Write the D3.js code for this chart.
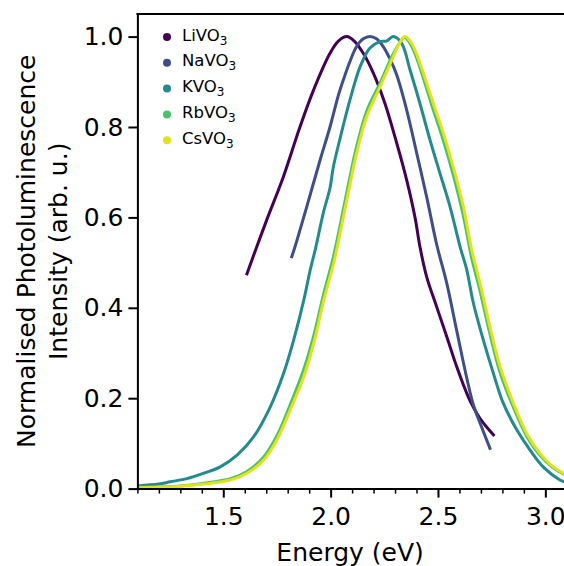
<!DOCTYPE html>
<html>
<head>
<meta charset="utf-8">
<script src="https://cdn.jsdelivr.net/npm/d3@7"></script>
<style>
  body { margin: 0; background: #fff; }
  text { font-family: "DejaVu Sans", sans-serif; fill: #000; }
</style>
</head>
<body>
<svg id="chart" width="564" height="566"></svg>
<script>
// series names and colours (viridis)
var names = ["LiVO", "NaVO", "KVO", "RbVO", "CsVO"];
var colors = ["#440154", "#3d4e8a", "#238b8d", "#4ac16d", "#dfe318"];

// [energy (eV), normalised intensity]
var liVO3 = [[1.61,0.475],[1.656,0.535],[1.702,0.594],[1.78,0.69],[1.857,0.80],[1.919,0.88],
  [1.997,0.963],[2.036,0.99],[2.075,1.0],[2.11,0.99],[2.152,0.963],[2.199,0.919],[2.253,0.852],
  [2.308,0.764],[2.354,0.683],[2.393,0.6],[2.416,0.535],[2.447,0.469],[2.494,0.402],[2.541,0.336],
  [2.587,0.27],[2.641,0.203],[2.665,0.18],[2.696,0.155],[2.758,0.119]];

var naVO3 = [[1.819,0.513],[1.834,0.535],[1.889,0.624],[1.951,0.727],[1.997,0.80],[2.036,0.87],
  [2.059,0.904],[2.09,0.945],[2.121,0.978],[2.152,0.995],[2.183,1.0],[2.214,0.995],[2.245,0.978],
  [2.277,0.95],[2.308,0.915],[2.354,0.838],[2.401,0.742],[2.447,0.646],[2.494,0.54],[2.541,0.454],
  [2.587,0.35],[2.634,0.245],[2.665,0.185],[2.70,0.14],[2.742,0.089]];

var kVO3 = [[1.1,0.006],[1.2,0.01],[1.253,0.015],[1.33,0.022],[1.409,0.034],[1.486,0.048],
  [1.564,0.074],[1.642,0.115],[1.719,0.181],[1.781,0.255],[1.828,0.329],[1.875,0.417],[1.905,0.484],
  [1.929,0.53],[1.966,0.61],[1.997,0.665],[2.012,0.71],[2.044,0.775],[2.09,0.86],[2.137,0.933],
  [2.183,0.975],[2.23,0.989],[2.26,0.99],[2.292,1.0],[2.331,0.985],[2.37,0.926],[2.416,0.852],
  [2.463,0.771],[2.509,0.698],[2.556,0.624],[2.603,0.535],[2.634,0.484],[2.665,0.41],[2.711,0.329],
  [2.758,0.255],[2.804,0.189],[2.867,0.13],[2.929,0.085],[2.99,0.048],[3.068,0.019],[3.1,0.013]];

var rbVO3 = [[1.1,0.003],[1.3,0.006],[1.409,0.012],[1.533,0.022],[1.61,0.038],[1.688,0.07],
  [1.75,0.117],[1.812,0.186],[1.875,0.264],[1.921,0.338],[1.968,0.432],[2.014,0.515],[2.075,0.655],
  [2.121,0.757],[2.168,0.835],[2.23,0.897],[2.292,0.962],[2.335,0.995],[2.346,0.998],[2.37,0.985],
  [2.393,0.962],[2.432,0.908],[2.478,0.838],[2.525,0.77],[2.571,0.694],[2.618,0.604],[2.657,0.51],
  [2.696,0.437],[2.742,0.342],[2.789,0.257],[2.851,0.18],[2.913,0.116],[2.975,0.074],[3.037,0.046],
  [3.1,0.029]];

var csVO3 = [[1.1,0.002],[1.3,0.005],[1.409,0.01],[1.533,0.019],[1.61,0.034],[1.688,0.063],
  [1.75,0.108],[1.812,0.174],[1.875,0.248],[1.921,0.321],[1.968,0.417],[2.014,0.498],[2.028,0.528],
  [2.075,0.638],[2.121,0.742],[2.168,0.823],[2.23,0.889],[2.292,0.956],[2.32,0.985],[2.346,1.0],
  [2.37,0.99],[2.393,0.97],[2.432,0.919],[2.478,0.852],[2.525,0.786],[2.571,0.712],[2.618,0.624],
  [2.657,0.528],[2.696,0.454],[2.742,0.358],[2.789,0.27],[2.851,0.189],[2.913,0.122],[2.975,0.078],
  [3.037,0.048],[3.1,0.03]];

var series = [liVO3, naVO3, kVO3, rbVO3, csVO3];

var xTicks = [1.5, 2.0, 2.5, 3.0];
var xMinor = [1.1,1.2,1.3,1.4,1.6,1.7,1.8,1.9,2.1,2.2,2.3,2.4,2.6,2.7,2.8,2.9,3.1];
var yTicks = [0, 0.2, 0.4, 0.6, 0.8, 1.0];

var svg = d3.select("#chart");
var plotLeft = 137.4, plotRight = 566.8, plotTop = 14, plotBottom = 488.6;

var x = d3.scaleLinear().domain([1.1, 3.1]).range([plotLeft, plotRight]);
var y = d3.scaleLinear().domain([0, 1.05]).range([plotBottom, plotTop]);

svg.append("clipPath").attr("id", "clip")
  .append("rect").attr("x", plotLeft).attr("y", plotTop)
  .attr("width", plotRight - plotLeft).attr("height", plotBottom - plotTop);

// lines
var line = d3.line()
  .x(d => x(d[0]))
  .y(d => y(d[1]))
  .curve(d3.curveCatmullRom.alpha(0.5));

svg.append("g").attr("clip-path", "url(#clip)")
  .selectAll("path")
  .data(series)
  .enter()
  .append("path")
    .attr("d", line)
    .attr("fill", "none")
    .attr("stroke", (d, i) => colors[i])
    .attr("stroke-width", 3)
    .attr("stroke-linejoin", "round")
    .attr("stroke-linecap", "square");

// minor x ticks
svg.append("g")
  .attr("transform", "translate(0," + plotBottom + ")")
  .call(d3.axisBottom(x).tickValues(xMinor).tickSize(5).tickFormat(""))
  .call(g => g.select(".domain").remove())
  .call(g => g.selectAll("line").attr("stroke-width", 1.5));

// major x axis
var xAxis = svg.append("g")
  .attr("transform", "translate(0," + plotBottom + ")")
  .call(d3.axisBottom(x).tickValues(xTicks).tickSize(9).tickSizeOuter(0).tickPadding(10).tickFormat(d3.format(".1f")));

// y axis
var yAxis = svg.append("g")
  .attr("transform", "translate(" + plotLeft + ",0)")
  .call(d3.axisLeft(y).tickValues(yTicks).tickSize(9).tickSizeOuter(0).tickPadding(5).tickFormat(d3.format(".1f")));

[xAxis, yAxis].forEach(function(g) {
  g.select(".domain").attr("stroke-width", 2);
  g.selectAll(".tick line").attr("stroke-width", 2);
  g.selectAll(".tick text").attr("font-size", 25).attr("font-family", "DejaVu Sans");
});

// top spine
svg.append("line")
  .attr("x1", plotLeft - 1).attr("x2", plotRight)
  .attr("y1", plotTop).attr("y2", plotTop)
  .attr("stroke", "#000").attr("stroke-width", 2);

// axis labels
svg.append("text")
  .attr("x", (plotLeft + plotRight) / 2 - 2)
  .attr("y", 561)
  .attr("text-anchor", "middle")
  .attr("font-size", 25)
  .text("Energy (eV)");

svg.append("text")
  .attr("transform", "translate(35," + (plotTop + plotBottom) / 2 + ") rotate(-90)")
  .attr("text-anchor", "middle")
  .attr("font-size", 25)
  .text("Normalised Photoluminescence");

svg.append("text")
  .attr("transform", "translate(67," + (plotTop + plotBottom) / 2 + ") rotate(-90)")
  .attr("text-anchor", "middle")
  .attr("font-size", 25)
  .text("Intensity (arb. u.)");

// legend
var legend = svg.append("g").attr("transform", "translate(167,37)");

legend.selectAll("circle")
  .data(names)
  .enter()
  .append("circle")
    .attr("cx", 0)
    .attr("cy", (d, i) => i * 25.8)
    .attr("r", 4)
    .attr("fill", (d, i) => colors[i]);

var labels = legend.selectAll("text")
  .data(names)
  .enter()
  .append("text")
    .attr("x", 15)
    .attr("y", (d, i) => i * 25.8 + 3.5)
    .attr("font-size", 16.5);

labels.append("tspan").text(d => d);
labels.append("tspan").attr("dy", 4).attr("font-size", 12).text("3");
</script>
</body>
</html>
